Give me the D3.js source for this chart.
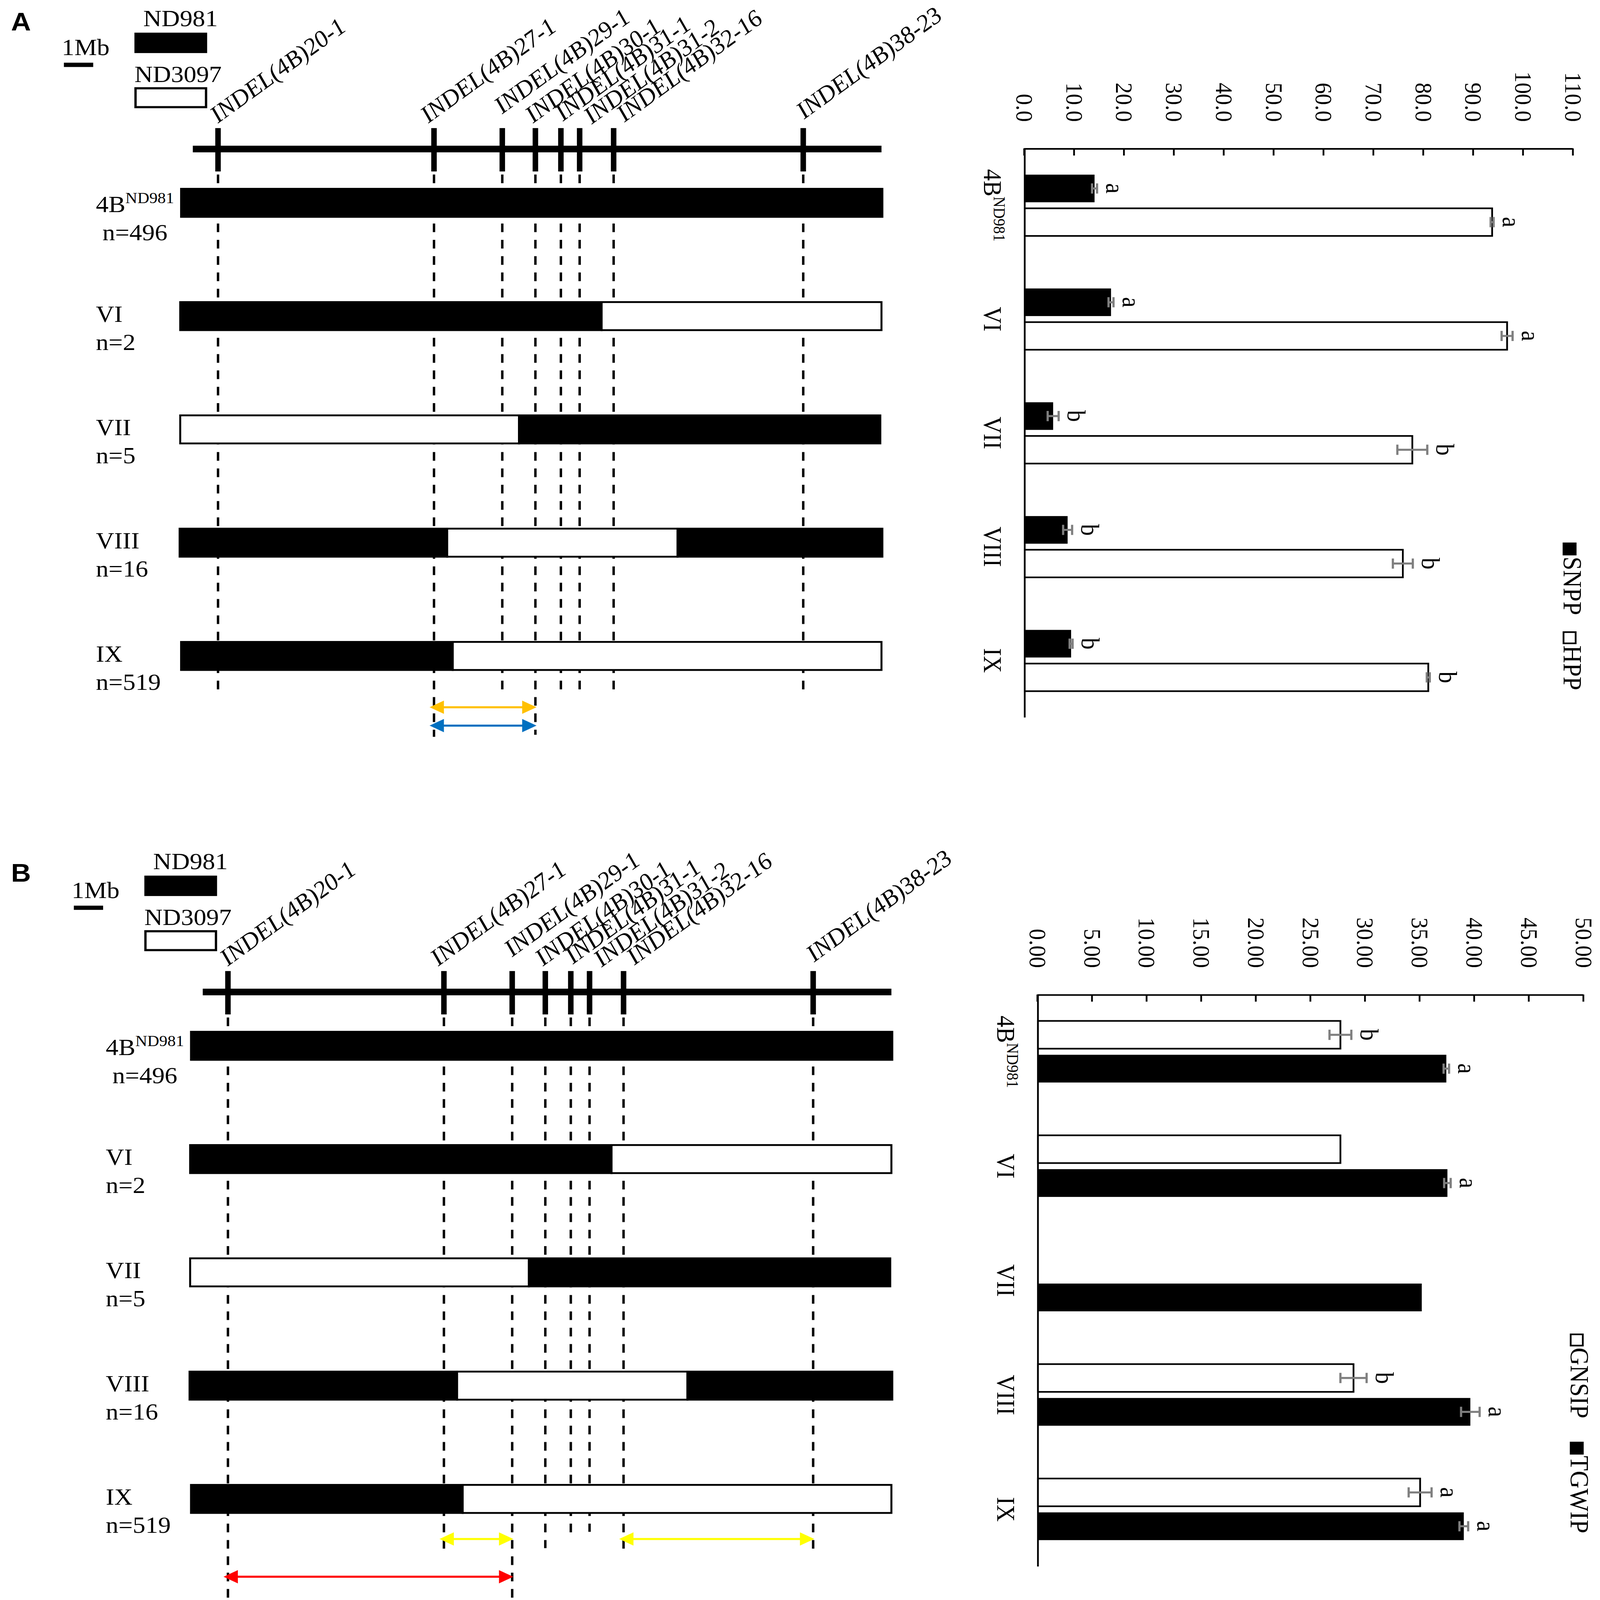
<!DOCTYPE html>
<html lang="en">
<head>
<meta charset="UTF-8">
<title>4B recombinant lines: SNPP/HPP and GNSIP/TGWIP</title>
<script src="https://d3js.org/d3.v7.min.js"></script>
<style>
  html, body { margin: 0; padding: 0; background: #fff; overflow: hidden; }
  svg { display: block; width: 100vw; height: 100vh; }
  text { font-family: "Liberation Serif", "Times New Roman", serif; fill: #000; }
  text.tag { font-family: "Liberation Sans", Arial, sans-serif; font-weight: bold; }
</style>
</head>
<body>
<div id="fig"></div>
<script>
// ---- data ----
const markers = ["INDEL(4B)20-1", "INDEL(4B)27-1", "INDEL(4B)29-1", "INDEL(4B)30-1",
                 "INDEL(4B)31-1", "INDEL(4B)31-2", "INDEL(4B)32-16", "INDEL(4B)38-23"];
const markerMb = [0.86, 8.23, 10.56, 11.69, 12.56, 13.2, 14.36, 20.83];
const chromMb = 23.5;

const lines = ["4B", "VI", "VII", "VIII", "IX"];
const lineSup = ["ND981", "", "", "", ""];
const lineN = [496, 2, 5, 16, 519];

// genotype blocks per line: [start Mb, end Mb, parent]
const blocks = [
  [[-0.4, 23.53, "ND981"]],
  [[-0.43, 13.95, "ND981"], [13.95, 23.5, "ND3097"]],
  [[-0.43, 11.13, "ND3097"], [11.13, 23.46, "ND981"]],
  [[-0.45, 8.68, "ND981"], [8.68, 16.54, "ND3097"], [16.54, 23.53, "ND981"]],
  [[-0.4, 8.87, "ND981"], [8.87, 23.5, "ND3097"]]
];

// panel A bars
const snpp    = [14.0, 17.3, 5.7, 8.6, 9.3];
const snppErr = [0.5, 0.5, 1.1, 0.9, 0.3];
const snppSig = ["a", "a", "b", "b", "b"];
const hpp     = [93.7, 96.7, 77.7, 75.8, 80.9];
const hppErr  = [0.3, 1.1, 3.0, 2.0, 0.3];
const hppSig  = ["a", "a", "b", "b", "b"];
const ticksA  = [0, 10, 20, 30, 40, 50, 60, 70, 80, 90, 100, 110];

// panel B bars
const gnsip    = [27.7, 27.7, null, 28.9, 35.0];
const gnsipErr = [1.0, null, null, 1.2, 1.05];
const gnsipSig = ["b", "", "", "b", "a"];
const tgwip    = [37.4, 37.5, 35.15, 39.6, 39.0];
const tgwipErr = [0.25, 0.3, null, 0.85, 0.4];
const tgwipSig = ["a", "a", "", "a", "a"];
const ticksB   = [0, 5, 10, 15, 20, 25, 30, 35, 40, 45, 50];

// ---- setup ----
const VW = 1452.1, VH = 1567.8;
const svg = d3.select("#fig").append("svg")
  .attr("viewBox", `0 0 ${VW} ${VH}`)
  .attr("preserveAspectRatio", "none");
svg.append("rect").attr("width", VW).attr("height", VH).attr("fill", "#fff");

const parentFill = {ND981: "#000", ND3097: "#fff"};

// label placement of the slanted marker names (relative to tick)
const markerLab = [
  {dx: 0, y: 121}, {dx: -5, y: 121}, {dx: 0, y: 112}, {dx: -2, y: 121},
  {dx: 2, y: 119}, {dx: 11, y: 122}, {dx: 10, y: 120}, {dx: 1, y: 117}
];

function supLabel(sel, name, sup, supSize) {
  sel.append("tspan").text(name);
  if (sup) sel.append("tspan").attr("font-size", supSize).attr("dy", -9).text(sup);
}

function drawMap(g, cfg) {
  const x = d3.scaleLinear().domain([0, chromMb]).range([175, 800]);
  const rowY = d3.scalePoint().domain(lines).range([185, 629]);

  // panel tag
  g.append("text").attr("class", "tag").attr("x", cfg.tagX).attr("y", cfg.tagY)
    .attr("font-size", 25).text(cfg.tag);

  // legend
  g.append("text").attr("x", 130).attr("y", 25.5).attr("font-size", 23).text("ND981");
  g.append("rect").attr("x", 122).attr("y", 32).attr("width", 66).attr("height", 20).attr("fill", "#000");
  g.append("text").attr("x", 56).attr("y", 54).attr("font-size", 23).text("1Mb");
  g.append("line").attr("x1", 58).attr("x2", 58 + x(1) - x(0)).attr("y1", 63.5).attr("y2", 63.5)
    .attr("stroke", "#000").attr("stroke-width", 4.2);
  g.append("text").attr("x", 122).attr("y", 80.4).attr("font-size", 23).text("ND3097");
  g.append("rect").attr("x", 123).attr("y", 86.5).attr("width", 64).attr("height", 18.5)
    .attr("fill", "#fff").attr("stroke", "#000").attr("stroke-width", 2.1);

  // dashed guides
  g.selectAll(".guide").data(markers).join("line").attr("class", "guide")
    .attr("x1", (d, i) => x(markerMb[i])).attr("x2", (d, i) => x(markerMb[i]))
    .attr("y1", 171).attr("y2", d => cfg.dashEnd[d] || cfg.dashEnd.def)
    .attr("stroke", "#000").attr("stroke-width", 2.2).attr("stroke-dasharray", "8.5,7.5");

  // chromosome
  g.append("line").attr("x1", x(0)).attr("x2", x(chromMb)).attr("y1", 146).attr("y2", 146)
    .attr("stroke", "#000").attr("stroke-width", 6.5);
  g.selectAll(".mtick").data(markers).join("rect").attr("class", "mtick")
    .attr("x", (d, i) => x(markerMb[i]) - 2.5).attr("y", 125.5)
    .attr("width", 5).attr("height", 42.5).attr("fill", "#000");
  g.selectAll(".mlab").data(markers).join("text").attr("class", "mlab")
    .attr("transform", (d, i) => `translate(${x(markerMb[i]) + markerLab[i].dx},${markerLab[i].y}) rotate(-38)`)
    .attr("font-size", 23).attr("font-style", "italic").text(d => d);

  // genotype bars
  lines.forEach((ln, i) => {
    const y0 = rowY(ln);
    g.selectAll(null).data(blocks[i]).join("rect")
      .attr("x", d => x(d[0])).attr("width", d => x(d[1]) - x(d[0]))
      .attr("y", y0).attr("height", 27.5)
      .attr("fill", d => parentFill[d[2]]).attr("stroke", "#000").attr("stroke-width", 1.8);
    g.append("text").attr("x", 87).attr("y", y0 + (i === 0 ? 23 : 19.5)).attr("font-size", 23)
      .call(supLabel, ln, lineSup[i], 15);
    g.append("text").attr("x", i === 0 ? 93 : 87).attr("y", y0 + (i === 0 ? 50.5 : 47)).attr("font-size", 23)
      .text("n=" + lineN[i]);
  });

  // interval arrows
  cfg.arrows.forEach(a => {
    const x1 = x(markerMb[markers.indexOf(a.from)]) - 4;
    const x2 = x(markerMb[markers.indexOf(a.to)]) + 1;
    g.append("line").attr("x1", x1 + 8).attr("x2", x2 - 8).attr("y1", a.y).attr("y2", a.y)
      .attr("stroke", a.color).attr("stroke-width", 2);
    g.append("path").attr("fill", a.color)
      .attr("d", `M${x1},${a.y} l13,-6.5 v13 Z M${x2},${a.y} l-13,-6.5 v13 Z`);
  });
}

function drawChart(g, cfg) {
  const x = d3.scaleBand().domain(lines).range([0, cfg.W]);
  const xs = d3.scaleBand().domain(cfg.series.map(s => s.name))
    .range([0, x.bandwidth()]).paddingInner(0.18).paddingOuter(0.78);
  const y = d3.scaleLinear().domain([0, cfg.max]).range([cfg.H, 0]);

  const ax = g.append("g")
    .call(d3.axisLeft(y).tickValues(cfg.ticks).tickFormat(d3.format(cfg.fmt))
      .tickSizeInner(-7).tickSizeOuter(0).tickPadding(26))
    .attr("font-family", null).attr("font-size", 22);
  ax.select(".domain").attr("stroke-width", 1.6);
  ax.selectAll(".tick line").attr("stroke-width", 1.6);

  g.append("line").attr("x1", 0).attr("x2", cfg.W).attr("y1", cfg.H).attr("y2", cfg.H)
    .attr("stroke", "#000").attr("stroke-width", 1.6);

  cfg.series.forEach(s => {
    lines.forEach((ln, i) => {
      const v = s.values[i];
      if (v == null) return;
      const bx = x(ln) + xs(s.name), bw = xs.bandwidth(), cx = bx + bw / 2;
      g.append("rect").attr("x", bx).attr("width", bw)
        .attr("y", y(v)).attr("height", cfg.H - y(v))
        .attr("fill", s.fill).attr("stroke", s.fill === "#fff" ? "#000" : "none")
        .attr("stroke-width", 1.6);
      const e = s.err[i];
      if (e) {
        g.append("path").attr("fill", "none").attr("stroke", "#7f7f7f").attr("stroke-width", 2)
          .attr("d", `M${cx},${y(v - e)}V${y(v + e)}M${cx - 5},${y(v - e)}h10M${cx - 5},${y(v + e)}h10`);
      }
      if (s.sig[i]) {
        g.append("text").attr("x", cx).attr("y", y(v + (e || 0)) - 16)
          .attr("text-anchor", "middle").attr("dominant-baseline", "central")
          .attr("font-size", 23).text(s.sig[i]);
      }
    });
  });

  lines.forEach((ln, i) => {
    g.append("text").attr("x", x(ln) + x.bandwidth() / 2).attr("y", cfg.H + 37)
      .attr("text-anchor", "middle").attr("font-size", 23)
      .call(supLabel, ln, lineSup[i], 15);
  });

  cfg.series.forEach((s, k) => {
    const lx = cfg.legendX[k];
    g.append("rect").attr("x", lx).attr("y", cfg.legendY - 11).attr("width", 11).attr("height", 11)
      .attr("fill", s.fill).attr("stroke", "#000").attr("stroke-width", 1.6);
    g.append("text").attr("x", lx + 13).attr("y", cfg.legendY).attr("font-size", 24).text(s.name);
  });
}

// ---- panel A ----
const mapA = svg.append("g");
drawMap(mapA, {
  tag: "A", tagX: 10, tagY: 30,
  dashEnd: {def: 678, "INDEL(4B)27-1": 722, "INDEL(4B)30-1": 720, "INDEL(4B)29-1": 676},
  arrows: [
    {from: "INDEL(4B)27-1", to: "INDEL(4B)30-1", color: "#FFC000", y: 693},
    {from: "INDEL(4B)27-1", to: "INDEL(4B)30-1", color: "#0070C0", y: 711}
  ]
});
const chartA = svg.append("g").attr("transform", "translate(1428,145.4) rotate(90)");
drawChart(chartA, {
  W: 557.6, H: 498, max: 110, ticks: ticksA, fmt: ".1f",
  series: [
    {name: "SNPP", fill: "#000", values: snpp, err: snppErr, sig: snppSig},
    {name: "HPP", fill: "#fff", values: hpp, err: hppErr, sig: hppSig}
  ],
  legendX: [387, 474], legendY: 9
});

// ---- panel B ----
const mapB = svg.append("g").attr("transform", "translate(9,826)");
drawMap(mapB, {
  tag: "B", tagX: 1, tagY: 38,
  dashEnd: {def: 695, "INDEL(4B)20-1": 745, "INDEL(4B)29-1": 745,
            "INDEL(4B)30-1": 691, "INDEL(4B)31-1": 677, "INDEL(4B)31-2": 675},
  arrows: [
    {from: "INDEL(4B)27-1", to: "INDEL(4B)29-1", color: "#FFFF00", y: 682},
    {from: "INDEL(4B)32-16", to: "INDEL(4B)38-23", color: "#FFFF00", y: 682},
    {from: "INDEL(4B)20-1", to: "INDEL(4B)29-1", color: "#FF0000", y: 719}
  ]
});
const chartB = svg.append("g").attr("transform", "translate(1437.5,974.5) rotate(90)");
drawChart(chartB, {
  W: 560.5, H: 495.5, max: 50, ticks: ticksB, fmt: ".2f",
  series: [
    {name: "GNSIP", fill: "#fff", values: gnsip, err: gnsipErr, sig: gnsipSig},
    {name: "TGWIP", fill: "#000", values: tgwip, err: tgwipErr, sig: tgwipSig}
  ],
  legendX: [333, 439], legendY: 12
});
</script>
</body>
</html>
